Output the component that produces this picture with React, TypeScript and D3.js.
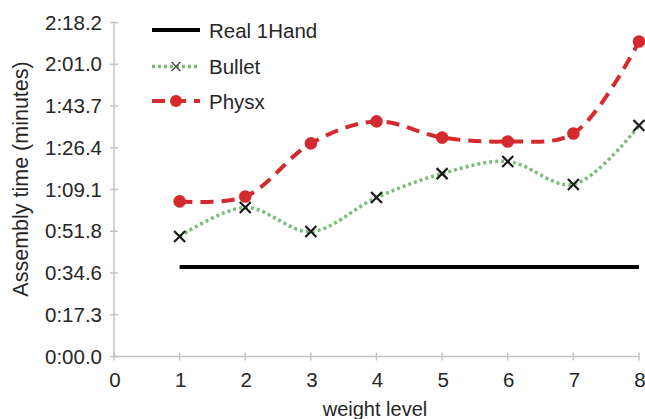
import * as d3 from 'd3';
import * as React from 'react';

// weight levels on the x axis
const weightLevels = [1, 2, 3, 4, 5, 6, 7, 8];
const xTicks = [0, 1, 2, 3, 4, 5, 6, 7, 8];

// assembly times in seconds
const realOneHand = [37, 37, 37, 37, 37, 37, 37, 37];
const bullet = [49.7, 61.7, 51.7, 65.8, 75.7, 80.7, 71.2, 95.6];
const physx = [64.2, 66.2, 88.2, 97.3, 90.6, 89.0, 92.3, 130.4];

// y axis ticks (seconds) and their labels
const yTickSeconds = [0, 17.28, 34.56, 51.84, 69.12, 86.4, 103.68, 120.96, 138.24];
const yTickLabels = ['0:00.0', '0:17.3', '0:34.6', '0:51.8', '1:09.1', '1:26.4', '1:43.7', '2:01.0', '2:18.2'];

const seriesNames = ['Real 1Hand', 'Bullet', 'Physx'];

const width = 645;
const height = 419;
const font = 'Liberation Sans, Arial, sans-serif';
const textColor = '#262626';
const axisColor = '#c4c4c4';
const green = '#79bd79';
const red = '#d42a2e';

export default function App() {
    const svgRef = React.useRef<SVGSVGElement | null>(null);

    React.useEffect(() => {
        if (!svgRef.current) return;
        const svg = d3.select(svgRef.current);
        svg.selectAll('*').remove();

        const x = d3.scaleLinear().domain([0, 8]).range([114, 639]);
        const y = d3.scaleLinear().domain([0, 138.24]).range([356.5, 22.5]);

        // axes
        const g = svg.append('g');
        g.append('line')
            .attr('x1', x(0)).attr('x2', x(0))
            .attr('y1', y(138.24)).attr('y2', y(0))
            .attr('stroke', axisColor).attr('stroke-width', 1.5);
        g.append('line')
            .attr('x1', x(0)).attr('x2', x(8))
            .attr('y1', y(0)).attr('y2', y(0))
            .attr('stroke', axisColor).attr('stroke-width', 1.5);

        g.selectAll('.ytick')
            .data(yTickSeconds)
            .enter().append('line')
            .attr('x1', x(0) - 4).attr('x2', x(0) + 4)
            .attr('y1', d => y(d)).attr('y2', d => y(d))
            .attr('stroke', axisColor).attr('stroke-width', 1.5);
        g.selectAll('.ylab')
            .data(yTickSeconds)
            .enter().append('text')
            .attr('x', 102)
            .attr('y', d => y(d) + 7)
            .attr('text-anchor', 'end')
            .attr('font-family', font).attr('font-size', 20.5).attr('fill', textColor)
            .text((d, i) => yTickLabels[i]);

        g.selectAll('.xtick')
            .data(xTicks)
            .enter().append('line')
            .attr('x1', d => x(d)).attr('x2', d => x(d))
            .attr('y1', y(0) - 4).attr('y2', y(0) + 4)
            .attr('stroke', axisColor).attr('stroke-width', 1.5);
        g.selectAll('.xlab')
            .data(xTicks)
            .enter().append('text')
            .attr('x', d => x(d) + 1)
            .attr('y', 387)
            .attr('text-anchor', 'middle')
            .attr('font-family', font).attr('font-size', 20.5).attr('fill', textColor)
            .text(d => String(d));

        // axis titles
        svg.append('text')
            .attr('x', 375).attr('y', 416)
            .attr('text-anchor', 'middle')
            .attr('font-family', font).attr('font-size', 20).attr('fill', textColor)
            .text('weight level');
        svg.append('text')
            .attr('transform', 'translate(28,179) rotate(-90)')
            .attr('text-anchor', 'middle')
            .attr('font-family', font).attr('font-size', 21.5).attr('fill', textColor)
            .text('Assembly time (minutes)');

        const line = d3.line<number>()
            .x((d, i) => x(weightLevels[i]))
            .y(d => y(d))
            .curve(d3.curveCatmullRom.alpha(0.5));

        // Real 1Hand
        svg.append('path')
            .attr('d', line(realOneHand) as string)
            .attr('fill', 'none').attr('stroke', '#000').attr('stroke-width', 4);

        // Bullet
        svg.append('path')
            .attr('d', line(bullet) as string)
            .attr('fill', 'none').attr('stroke', green).attr('stroke-width', 3.5)
            .attr('stroke-dasharray', '3,3');

        // Physx
        svg.append('path')
            .attr('d', line(physx) as string)
            .attr('fill', 'none').attr('stroke', red).attr('stroke-width', 4)
            .attr('stroke-dasharray', '13,8');

        const crossPath = (cx: number, cy: number, r: number) =>
            `M${cx - r},${cy - r}L${cx + r},${cy + r}M${cx - r},${cy + r}L${cx + r},${cy - r}`;

        svg.selectAll('.bmark')
            .data(bullet)
            .enter().append('path')
            .attr('d', (d, i) => crossPath(x(weightLevels[i]), y(d), 5.5))
            .attr('stroke', '#1a1a1a').attr('stroke-width', 2.2).attr('fill', 'none');

        svg.selectAll('.pmark')
            .data(physx)
            .enter().append('circle')
            .attr('cx', (d, i) => x(weightLevels[i]))
            .attr('cy', d => y(d))
            .attr('r', 6.3)
            .attr('fill', red);

        // legend
        const legendY = [30, 66.5, 101];
        const lg = svg.append('g');
        lg.append('line')
            .attr('x1', 152).attr('x2', 200).attr('y1', legendY[0]).attr('y2', legendY[0])
            .attr('stroke', '#000').attr('stroke-width', 4);
        lg.append('line')
            .attr('x1', 152).attr('x2', 200).attr('y1', legendY[1]).attr('y2', legendY[1])
            .attr('stroke', green).attr('stroke-width', 3.5).attr('stroke-dasharray', '3,3');
        lg.append('path')
            .attr('d', crossPath(176, legendY[1], 4.5))
            .attr('stroke', '#555').attr('stroke-width', 1.6).attr('fill', 'none');
        lg.append('line')
            .attr('x1', 152).attr('x2', 200).attr('y1', legendY[2]).attr('y2', legendY[2])
            .attr('stroke', red).attr('stroke-width', 4).attr('stroke-dasharray', '13,8');
        lg.append('circle')
            .attr('cx', 176).attr('cy', legendY[2]).attr('r', 6).attr('fill', red);
        lg.selectAll('text')
            .data(seriesNames)
            .enter().append('text')
            .attr('x', 209)
            .attr('y', (d, i) => legendY[i] + 7.5)
            .attr('font-family', font).attr('font-size', 20.5).attr('fill', textColor)
            .text(d => d);
    }, []);

    return (
        <div style={{ position: 'absolute', left: 0, top: 0 }}>
            <svg ref={svgRef} width={width} height={height} style={{ display: 'block', background: '#fff' }} />
        </div>
    );
}
